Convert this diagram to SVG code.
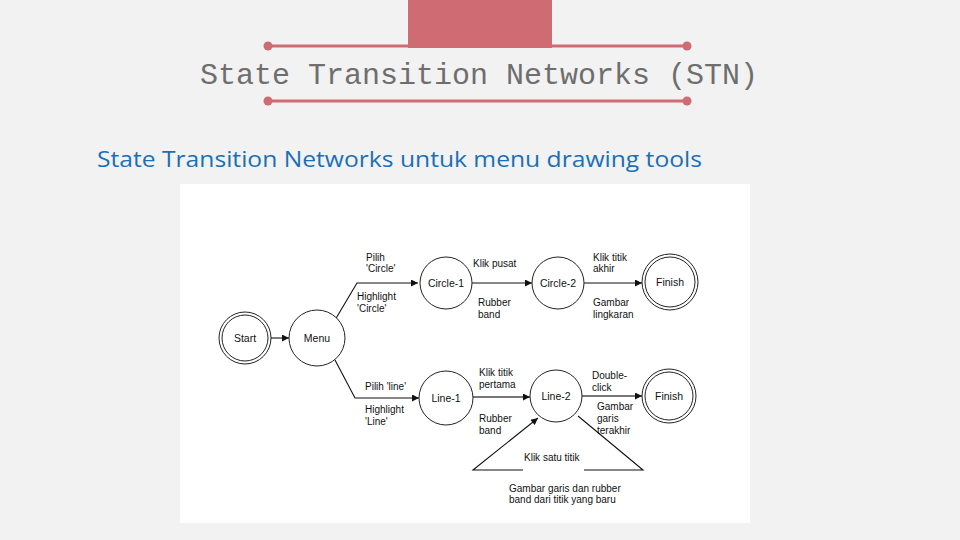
<svg xmlns="http://www.w3.org/2000/svg" width="960" height="540" viewBox="0 0 960 540">
<defs>
<style>
.bg{fill:#f2f2f2}
.accent{fill:#cf6b73}
.rule{stroke:#cf6b73;stroke-width:3;fill:none}
.title{font-family:"Liberation Mono","DejaVu Sans Mono",monospace;font-size:30px;fill:#6e6e6e}
.sub{font-family:"Open Sans","Noto Sans","Liberation Sans",sans-serif;font-size:21px;fill:#1a6fb8}
.node{fill:#fff;stroke:#222;stroke-width:1}
.nl{font-family:"Liberation Sans",Arial,sans-serif;font-size:10.5px;fill:#111;text-anchor:middle}
.lb{font-family:"Liberation Sans",Arial,sans-serif;font-size:10px;fill:#111}
.edge{stroke:#111;stroke-width:1.1;fill:none}
.edge2{stroke:#777;stroke-width:2;fill:none}
</style>
<marker id="ah" viewBox="0 0 10 10" refX="10" refY="5" markerWidth="8" markerHeight="7" markerUnits="userSpaceOnUse" orient="auto">
<path d="M0,0 L10,5 L0,10 z" fill="#111"/>
</marker>
</defs>
<rect class="bg" x="0" y="0" width="960" height="540"/>
<rect class="accent" x="408" y="0" width="144" height="48"/>
<line class="rule" x1="268" y1="46" x2="687" y2="46"/>
<circle class="accent" cx="268" cy="46" r="4.5"/>
<circle class="accent" cx="687" cy="46" r="4.5"/>
<line class="rule" x1="268" y1="101" x2="687" y2="101"/>
<circle class="accent" cx="268" cy="101" r="4.5"/>
<circle class="accent" cx="687" cy="101" r="4.5"/>
<text class="title" x="200" y="84">State Transition Networks (STN)</text>
<text class="sub" x="97" y="167" textLength="605" lengthAdjust="spacingAndGlyphs">State Transition Networks untuk menu drawing tools</text>
<rect x="180" y="184" width="570" height="339" fill="#fff"/>

<g id="connectors">
<line class="edge" x1="271" y1="338" x2="289" y2="338" marker-end="url(#ah)"/>
<polyline class="edge" points="335,320 357,283 418,283" marker-end="url(#ah)"/>
<line class="edge" x1="472" y1="283" x2="532" y2="283" marker-end="url(#ah)"/>
<line class="edge" x1="584" y1="283" x2="642" y2="283" marker-end="url(#ah)"/>
<polyline class="edge" points="335,360 355,398 419,398" marker-end="url(#ah)"/>
<line class="edge2" x1="473" y1="397" x2="530" y2="397" marker-end="url(#ah)"/>
<line class="edge2" x1="582" y1="396" x2="642" y2="396" marker-end="url(#ah)"/>
<polyline class="edge" points="523,470 473,470 538,418" marker-end="url(#ah)"/>
<polyline class="edge" points="578,416 643,470 584,470"/>
</g>

<g id="labels">
<text class="lb" x="366" y="261">Pilih</text>
<text class="lb" x="366" y="272">'Circle'</text>
<text class="lb" x="357" y="300">Highlight</text>
<text class="lb" x="357" y="312">'Circle'</text>
<text class="lb" x="473" y="267">Klik pusat</text>
<text class="lb" x="478" y="306">Rubber</text>
<text class="lb" x="478" y="318">band</text>
<text class="lb" x="593" y="261">Klik titik</text>
<text class="lb" x="593" y="272">akhir</text>
<text class="lb" x="593" y="306">Gambar</text>
<text class="lb" x="593" y="318">lingkaran</text>
<text class="lb" x="365" y="390">Pilih 'line'</text>
<text class="lb" x="365" y="413">Highlight</text>
<text class="lb" x="365" y="425">'Line'</text>
<text class="lb" x="479" y="376">Klik titik</text>
<text class="lb" x="479" y="388">pertama</text>
<text class="lb" x="479" y="422">Rubber</text>
<text class="lb" x="479" y="434">band</text>
<text class="lb" x="592" y="379">Double-</text>
<text class="lb" x="592" y="391">click</text>
<text class="lb" x="597" y="410">Gambar</text>
<text class="lb" x="597" y="422">garis</text>
<text class="lb" x="597" y="434">terakhir</text>
<text class="lb" x="524" y="461">Klik satu titik</text>
<text class="lb" x="509" y="492">Gambar garis dan rubber</text>
<text class="lb" x="509" y="503">band dari titik yang baru</text>
</g>

<g id="start">
<circle class="node" cx="245" cy="338" r="26" stroke-width="1.5"/>
<circle class="node" cx="245" cy="338" r="23" stroke-width="1.5"/>
<text class="nl" x="245" y="342">Start</text>
</g>
<g id="menu">
<circle class="node" cx="317" cy="338" r="28"/>
<text class="nl" x="317" y="342">Menu</text>
</g>
<g id="circle1">
<circle class="node" cx="446" cy="283" r="26"/>
<text class="nl" x="446" y="287">Circle-1</text>
</g>
<g id="circle2">
<circle class="node" cx="558" cy="283" r="26"/>
<text class="nl" x="558" y="287">Circle-2</text>
</g>
<g id="finish1">
<circle class="node" cx="670" cy="282" r="28" stroke-width="1.5"/>
<circle class="node" cx="670" cy="282" r="25" stroke-width="1.5"/>
<text class="nl" x="670" y="286">Finish</text>
</g>
<g id="line1">
<circle class="node" cx="446" cy="398" r="27"/>
<text class="nl" x="446" y="402">Line-1</text>
</g>
<g id="line2">
<circle class="node" cx="556" cy="396" r="26"/>
<text class="nl" x="556" y="400">Line-2</text>
</g>
<g id="finish2">
<circle class="node" cx="669" cy="396" r="27" stroke-width="1.5"/>
<circle class="node" cx="669" cy="396" r="24" stroke-width="1.5"/>
<text class="nl" x="669" y="400">Finish</text>
</g>
</svg>
